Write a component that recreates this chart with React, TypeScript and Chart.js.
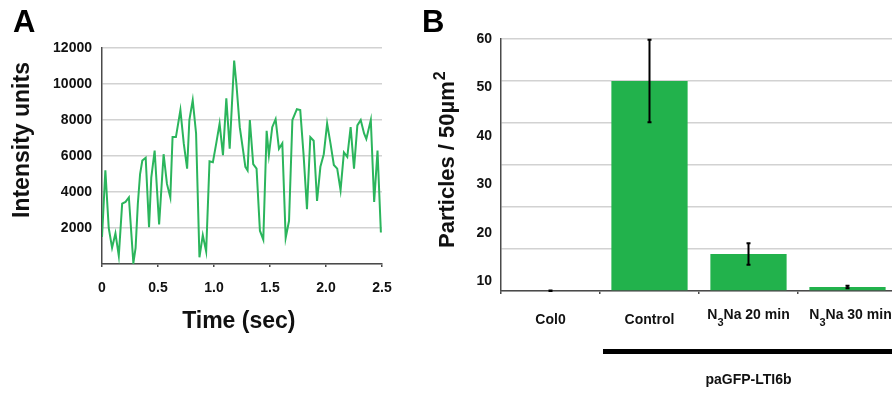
import React, { useEffect, useRef } from 'react';
import { Chart, registerables } from 'chart.js';

Chart.register(...registerables);

// ---------- Panel A data ----------
const timeSec = [
  0.0, 0.03, 0.06, 0.09, 0.12, 0.15, 0.18, 0.21, 0.24, 0.28,
  0.3, 0.32, 0.34, 0.36, 0.39, 0.42, 0.44, 0.47, 0.51, 0.55,
  0.58, 0.61, 0.63, 0.66, 0.7, 0.73, 0.76, 0.78, 0.81, 0.84,
  0.87, 0.9, 0.93, 0.96, 0.99, 1.02, 1.05, 1.08, 1.11, 1.14,
  1.18, 1.2, 1.23, 1.26, 1.28, 1.3, 1.32, 1.35, 1.38, 1.41,
  1.44, 1.47, 1.49, 1.52, 1.55, 1.58, 1.61, 1.64, 1.67, 1.7,
  1.74, 1.77, 1.8, 1.83, 1.86, 1.89, 1.92, 1.95, 1.98, 2.01,
  2.04, 2.07, 2.1, 2.13, 2.16, 2.19, 2.22, 2.25, 2.28, 2.31,
  2.34, 2.36, 2.4, 2.43, 2.46, 2.49,
];
const intensity = [
  1500, 5200, 2000, 900, 1700, 450, 3350, 3450, 3700, 50,
  900, 3350, 5000, 5750, 5900, 2050, 4800, 6300, 2200, 6100,
  4450, 3700, 7050, 7050, 8550, 6700, 5300, 8000, 9100, 7250,
  370, 1600, 700, 5700, 5650, 6700, 7800, 6050, 9200, 6400,
  11300, 10000, 7600, 6300, 5400, 5200, 8000, 5550, 5300, 1850,
  1350, 7400, 6050, 7600, 8050, 6400, 6700, 1450, 2400, 8000,
  8600, 8550, 6050, 3050, 7050, 6850, 3500, 5400, 6100, 7800,
  6700, 5500, 5300, 4100, 6200, 5950, 7600, 5300, 7700, 8000,
  7250, 6950, 8000, 3450, 6300, 1750,
];
const xTickValuesA = [0, 0.5, 1, 1.5, 2, 2.5];
const xTickLabelsA = ['0', '0.5', '1.0', '1.5', '2.0', '2.5'];
const yTickValuesA = [0, 2000, 4000, 6000, 8000, 10000, 12000];

// ---------- Panel B data ----------
const categoriesB = ['Col0', 'Control', 'N₃Na 20 min', 'N₃Na 30 min'];
const particles = [0, 50, 8.8, 0.95];
const particlesErr = [0.1, 9.8, 2.55, 0.3];
const gridValuesB = [0, 10, 20, 30, 40, 50, 60];
const yTickLabelsB = ['10', '20', '30', '40', '50', '60'];
const groupLabel = 'paGFP-LTI6b';

const FONT = "'Liberation Sans', Arial, Helvetica, sans-serif";
const LINE = '#2bb55c';
const BAR = '#22b24c';
const GRID = '#d2d2d2';
const AXIS = '#4a4a4a';
const TEXT = '#111111';

const SUBS: Record<string, string> = { '₀': '0', '₁': '1', '₂': '2', '₃': '3', '₄': '4', '₅': '5', '₆': '6', '₇': '7', '₈': '8', '₉': '9' };

const letterPlugin = (letter: string, x: number, y: number) => ({
  id: 'panelLetter' + letter,
  afterDraw(chart: any) {
    const ctx = chart.ctx;
    ctx.save();
    ctx.fillStyle = '#000';
    ctx.font = `bold 31px ${FONT}`;
    ctx.textAlign = 'left';
    ctx.textBaseline = 'alphabetic';
    ctx.fillText(letter, x, y);
    ctx.restore();
  },
});

const panelBPlugin = {
  id: 'panelBExtras',
  afterDatasetsDraw(chart: any) {
    const ctx = chart.ctx;
    const xs = chart.scales.x;
    const ys = chart.scales.y;
    ctx.save();
    // error bars
    ctx.strokeStyle = '#000';
    ctx.lineWidth = 2;
    particles.forEach((v, i) => {
      const x = xs.getPixelForValue(i);
      const top = ys.getPixelForValue(v + particlesErr[i]);
      const bot = ys.getPixelForValue(Math.max(0, v - particlesErr[i]));
      ctx.beginPath();
      ctx.moveTo(x, top);
      ctx.lineTo(x, bot);
      ctx.moveTo(x - 2, top);
      ctx.lineTo(x + 2, top);
      ctx.moveTo(x - 2, bot);
      ctx.lineTo(x + 2, bot);
      ctx.stroke();
    });
    ctx.restore();
  },
  afterDraw(chart: any) {
    const ctx = chart.ctx;
    const xs = chart.scales.x;
    ctx.save();
    ctx.fillStyle = TEXT;
    // category labels with subscripts
    const mainFont = `bold 14px ${FONT}`;
    const subFont = `bold 11px ${FONT}`;
    categoriesB.forEach((label, i) => {
      const cx = xs.getPixelForValue(i);
      const parts: { t: string; sub: boolean }[] = [];
      for (const ch of label) {
        const sub = ch in SUBS;
        const t = sub ? SUBS[ch] : ch;
        const last = parts[parts.length - 1];
        if (last && last.sub === sub) last.t += t;
        else parts.push({ t, sub });
      }
      const hasSub = parts.some((p) => p.sub);
      let total = 0;
      parts.forEach((p) => {
        ctx.font = p.sub ? subFont : mainFont;
        total += ctx.measureText(p.t).width;
      });
      let x = cx - total / 2 + (i === categoriesB.length - 1 ? 3 : 0);
      ctx.textAlign = 'left';
      ctx.textBaseline = 'middle';
      parts.forEach((p) => {
        ctx.font = p.sub ? subFont : mainFont;
        const y = hasSub ? (p.sub ? 323 : 315) : 320;
        ctx.fillText(p.t, x, y);
        x += ctx.measureText(p.t).width;
      });
    });
    // group bracket line
    const x0 = (xs.getPixelForValue(0) + xs.getPixelForValue(1)) / 2 + 3;
    ctx.fillStyle = '#000';
    ctx.fillRect(x0, 349, chart.width - x0, 5);
    // group label
    ctx.fillStyle = TEXT;
    ctx.font = `bold 14px ${FONT}`;
    ctx.textAlign = 'center';
    ctx.textBaseline = 'middle';
    const gx = (xs.getPixelForValue(1) + xs.getPixelForValue(3)) / 2;
    ctx.fillText(groupLabel, gx, 380);
    // y-axis title with superscript
    ctx.save();
    ctx.translate(44, 248);
    ctx.rotate(-Math.PI / 2);
    ctx.textAlign = 'left';
    ctx.textBaseline = 'alphabetic';
    ctx.font = `bold 22px ${FONT}`;
    const main = 'Particles / 50µm';
    ctx.fillText(main, 0, 0);
    const w = ctx.measureText(main).width;
    ctx.font = `bold 16px ${FONT}`;
    ctx.fillText('2', w + 1, -9);
    ctx.restore();
    ctx.restore();
  },
};

export default function App() {
  const refA = useRef<HTMLCanvasElement>(null);
  const refB = useRef<HTMLCanvasElement>(null);

  useEffect(() => {
    document.body.style.margin = '0';
    const tickFont = { family: FONT, size: 14, weight: 'bold' as const };
    const titleFont = { family: FONT, size: 23, weight: 'bold' as const };

    const chartA = new Chart(refA.current!, {
      type: 'line',
      data: {
        datasets: [
          {
            data: timeSec.map((t, i) => ({ x: t, y: intensity[i] })),
            borderColor: LINE,
            borderWidth: 2,
            pointRadius: 0,
            tension: 0,
            fill: false,
          },
        ],
      },
      options: {
        responsive: false,
        animation: false,
        devicePixelRatio: 1,
        layout: { padding: { left: 9, top: 48, right: 18, bottom: 6 } },
        plugins: { legend: { display: false }, tooltip: { enabled: false } },
        scales: {
          x: {
            type: 'linear',
            min: 0,
            max: 2.5,
            afterBuildTicks: (s: any) => {
              s.ticks = xTickValuesA.map((v) => ({ value: v }));
            },
            afterFit: (s: any) => {
              s.height = 80;
              s.paddingLeft = 0;
              s.paddingRight = 0;
            },
            ticks: {
              callback: (v: any) => xTickLabelsA[xTickValuesA.indexOf(Number(v))],
              font: tickFont,
              color: TEXT,
              padding: 13,
              maxRotation: 0,
              autoSkip: false,
            },
            grid: { display: true, drawOnChartArea: false, drawTicks: true, tickLength: 3, color: AXIS, lineWidth: 1.5 },
            border: { color: AXIS, width: 1.5 },
            title: { display: true, text: 'Time (sec) ', font: titleFont, color: TEXT, padding: { top: 0, bottom: 9 } },
          },
          y: {
            min: 0,
            max: 12000,
            afterBuildTicks: (s: any) => {
              s.ticks = yTickValuesA.map((v) => ({ value: v }));
            },
            afterFit: (s: any) => {
              s.width = 93;
            },
            ticks: {
              callback: (v: any) => (Number(v) === 0 ? '' : String(v)),
              font: tickFont,
              color: TEXT,
              padding: 10,
            },
            grid: { color: GRID, lineWidth: 1.5, drawTicks: false },
            border: { color: AXIS, width: 1.5 },
            title: { display: true, text: '     Intensity units', font: titleFont, color: TEXT, padding: 0 },
          },
        },
      },
      plugins: [letterPlugin('A', 13, 32)],
    } as any);

    const chartB = new Chart(refB.current!, {
      type: 'bar',
      data: {
        labels: categoriesB,
        datasets: [
          {
            data: particles,
            backgroundColor: BAR,
            borderWidth: 0,
            barPercentage: 0.77,
            categoryPercentage: 1,
            xAxisID: 'x',
            yAxisID: 'y',
          },
        ],
      },
      options: {
        responsive: false,
        animation: false,
        devicePixelRatio: 1,
        layout: { padding: { left: 0, top: 39, right: 3, bottom: 0 } },
        plugins: { legend: { display: false }, tooltip: { enabled: false } },
        scales: {
          x: {
            ticks: { display: false },
            grid: { display: true, drawOnChartArea: false, drawTicks: true, tickLength: 3, color: AXIS, lineWidth: 1.5, offset: true },
            border: { color: AXIS, width: 1.5 },
            afterFit: (s: any) => {
              s.height = 102;
            },
          },
          y: {
            position: 'left',
            min: 0,
            max: 60,
            afterBuildTicks: (s: any) => {
              s.ticks = gridValuesB.map((v) => ({ value: v }));
            },
            ticks: { display: false },
            grid: { color: GRID, lineWidth: 1.5, drawTicks: false },
            border: { color: AXIS, width: 1.5 },
            afterFit: (s: any) => {
              s.width = 0;
            },
          },
          y2: {
            position: 'left',
            min: 8,
            max: 60,
            afterBuildTicks: (s: any) => {
              s.ticks = yTickLabelsB.map((l) => ({ value: Number(l) }));
            },
            ticks: { font: tickFont, color: TEXT, padding: 9 },
            grid: { display: false, drawTicks: false },
            border: { display: false },
            afterFit: (s: any) => {
              s.width = 91;
            },
          },
        },
      },
      plugins: [panelBPlugin, letterPlugin('B', 12, 32)],
    } as any);

    return () => {
      chartA.destroy();
      chartB.destroy();
    };
  }, []);

  return (
    <div
      style={{
        position: 'fixed',
        left: 0,
        top: 0,
        width: 892,
        height: 393,
        overflow: 'hidden',
        background: '#fff',
      }}
    >
      <canvas ref={refA} width={400} height={350} style={{ position: 'absolute', left: 0, top: 0, width: 400, height: 350 }} />
      <canvas ref={refB} width={490} height={393} style={{ position: 'absolute', left: 410, top: 0, width: 490, height: 393 }} />
    </div>
  );
}
